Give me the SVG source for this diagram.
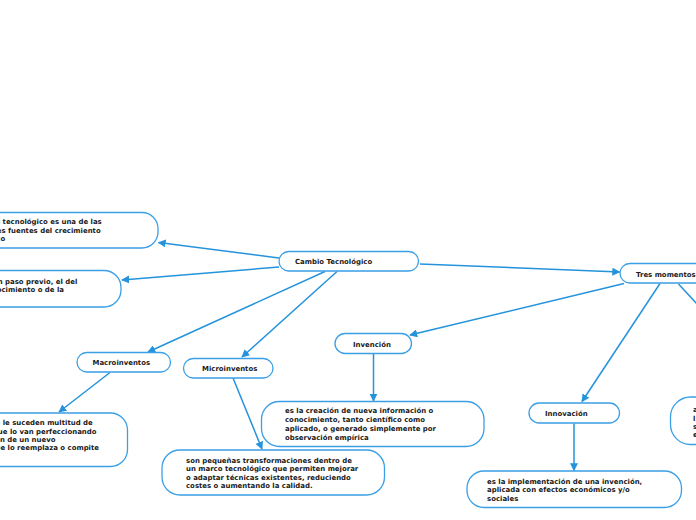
<svg xmlns="http://www.w3.org/2000/svg" width="696" height="520" viewBox="0 0 696 520">
<defs>
<marker id="ah" viewBox="0 0 10 10" refX="9" refY="5" markerWidth="8" markerHeight="8" markerUnits="userSpaceOnUse" orient="auto">
<path d="M0,0 L10,5 L0,10 Z" fill="#2493dc"/>
</marker>
<style>
.box{fill:#fff;stroke:#3a9fe6;stroke-width:1.3}
.ln{fill:none;stroke:#2493dc;stroke-width:1.5}
.ar{marker-end:url(#ah)}
text{font-family:"DejaVu Sans","Verdana",sans-serif;font-weight:bold;font-size:6.95px;fill:#1a1a1a}
</style>
</defs>
<rect width="696" height="520" fill="#fff"/>
<g id="connectors">
<line class="ln ar" x1="279" y1="258" x2="158.5" y2="242.5"/>
<line class="ln ar" x1="279" y1="267" x2="122" y2="280"/>
<line class="ln ar" x1="420" y1="264" x2="619.5" y2="272"/>
<line class="ln ar" x1="325" y1="271.5" x2="148" y2="352"/>
<line class="ln ar" x1="337" y1="271.5" x2="242" y2="357"/>
<line class="ln ar" x1="624" y1="283.5" x2="410" y2="335"/>
<line class="ln ar" x1="660" y1="283.5" x2="582" y2="401.5"/>
<line class="ln" x1="678.5" y1="284" x2="698" y2="305"/>
<line class="ln ar" x1="110" y1="372.5" x2="59" y2="412"/>
<line class="ln ar" x1="233" y1="378" x2="262" y2="449"/>
<line class="ln ar" x1="373.5" y1="354" x2="373.5" y2="401"/>
<line class="ln ar" x1="574" y1="423.5" x2="574" y2="470.5"/>
</g>
<g id="n-cambio">
<rect class="box" x="279" y="251.5" width="139.5" height="19.5" rx="9.75"/>
<text x="295" y="264.3">Cambio Tecnológico</text>
</g>
<g id="n-def">
<rect class="box" x="-40" y="212.5" width="198" height="35.5" rx="16"/>
<text x="101.7" y="224.2" text-anchor="end">El cambio tecnológico es una de las</text>
<text x="100.7" y="232.8" text-anchor="end">principales fuentes del crecimiento</text>
<text x="5.2" y="241.4" text-anchor="end">económico</text>
</g>
<g id="n-paso">
<rect class="box" x="-40" y="270.5" width="161" height="36.5" rx="17"/>
<text x="77.3" y="283.5" text-anchor="end">La invención es un paso previo, el del</text>
<text x="64" y="292.1" text-anchor="end">conocimiento o de la</text>
</g>
<g id="n-tres">
<rect class="box" x="620" y="263.5" width="110" height="19.5" rx="9.75"/>
<text x="636" y="276.5">Tres momentos</text>
</g>
<g id="n-macro">
<rect class="box" x="77" y="352.5" width="93.5" height="19.5" rx="9.75"/>
<text x="92.5" y="365.2">Macroinventos</text>
</g>
<g id="n-macro-def">
<rect class="box" x="-40" y="413" width="167.5" height="53.5" rx="17"/>
<text x="92.7" y="425.3" text-anchor="end">Es una invención radical a la que le suceden multitud de</text>
<text x="96.5" y="433.6" text-anchor="end">microinventos que lo van perfeccionando</text>
<text x="55.5" y="441.9" text-anchor="end">hasta la aparición de un nuevo</text>
<text x="99" y="450.2" text-anchor="end">macroinvento que lo reemplaza o compite</text>
</g>
<g id="n-micro">
<rect class="box" x="183.5" y="358.5" width="89.5" height="19.5" rx="9.75"/>
<text x="202" y="371.2">Microinventos</text>
</g>
<g id="n-micro-def">
<rect class="box" x="162" y="450" width="222.5" height="45" rx="18"/>
<text x="186" y="462.6">son pequeñas transformaciones dentro de</text>
<text x="186" y="471.1">un marco tecnológico que permiten mejorar</text>
<text x="186" y="479.8">o adaptar técnicas existentes, reduciendo</text>
<text x="186" y="488.4">costes o aumentando la calidad.</text>
</g>
<g id="n-invencion">
<rect class="box" x="335" y="333.5" width="76.5" height="20" rx="10"/>
<text x="353" y="346.5">Invención</text>
</g>
<g id="n-invencion-def">
<rect class="box" x="261.5" y="401.5" width="222.5" height="45" rx="18"/>
<text x="285" y="413.4">es la creación de nueva información o</text>
<text x="285" y="422.1">conocimiento, tanto científico como</text>
<text x="285" y="430.9">aplicado, o generado simplemente por</text>
<text x="285" y="439.5">observación empírica</text>
</g>
<g id="n-innovacion">
<rect class="box" x="529" y="403" width="90.5" height="20" rx="10"/>
<text x="545" y="416.4">Innovación</text>
</g>
<g id="n-innovacion-def">
<rect class="box" x="467" y="471" width="214.5" height="36.5" rx="17"/>
<text x="487" y="483.6">es la implementación de una invención,</text>
<text x="487" y="492.1">aplicada con efectos económicos y/o</text>
<text x="487" y="500.7">sociales</text>
</g>
<g id="n-right">
<rect class="box" x="670.5" y="397" width="80" height="47.5" rx="20"/>
<text x="693" y="412.3">a</text>
<text x="693" y="420.6">l</text>
<text x="693" y="428.9">s</text>
<text x="693" y="437.2">e</text>
</g>
</svg>
